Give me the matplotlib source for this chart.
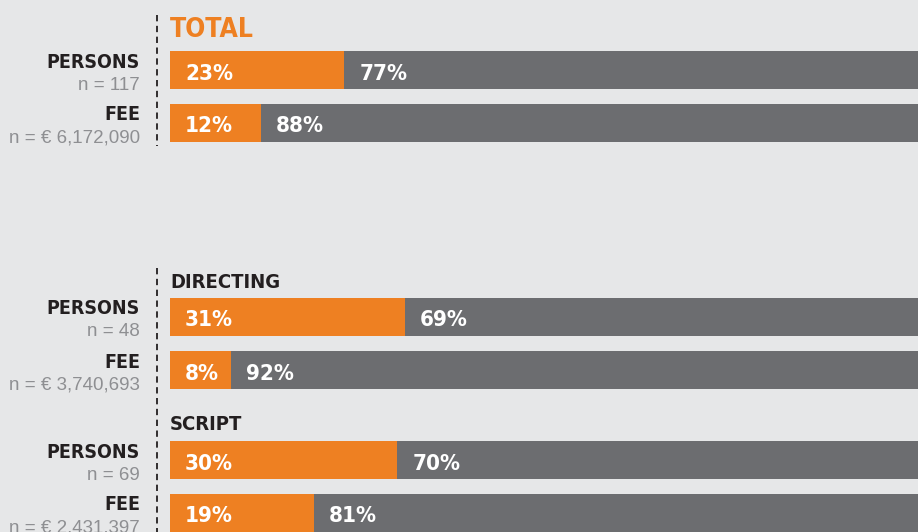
import matplotlib
matplotlib.use("Agg")
import matplotlib.pyplot as plt
from matplotlib import font_manager as fm
from matplotlib.transforms import Affine2D

# ---- data ----
groups = ["TOTAL", "DIRECTING", "SCRIPT"]
row_labels = ["PERSONS", "FEE"]
persons_pct = [23, 31, 30]
fee_pct = [12, 8, 19]
persons_n = ["n = 117", "n = 48", "n = 69"]
fee_n = ["n = € 6,172,090", "n = € 3,740,693", "n = € 2,431,397"]

# ---- style ----
BG = "#e6e7e8"
ORANGE = "#ee8022"
GREY = "#6c6d70"
DARK = "#231f20"
LIGHT = "#8e8f92"

def find_font(cands):
    for c in cands:
        for f in fm.fontManager.ttflist:
            if c.lower() in f.fname.lower().replace(" ", ""):
                return f.fname
    return None

bold_file = find_font(["LiberationSansNarrow-Bold.ttf", "DejaVuSansCondensed-Bold.ttf"])
def fp_bold(size):
    if bold_file:
        return fm.FontProperties(fname=bold_file, size=size)
    return fm.FontProperties(family="DejaVu Sans", weight="bold", size=size)
def fp_reg(size):
    return fm.FontProperties(family="Liberation Sans", size=size)

W, H = 918, 532
fig = plt.figure(figsize=(W / 100, H / 100), dpi=100, facecolor=BG)
px = Affine2D().scale(1 / W, -1 / H).translate(0, 1) + fig.transFigure

bar_x0, bar_w = 170, 758
ax = fig.add_axes([bar_x0 / W, 0, bar_w / W, 1])
ax.set_xlim(0, 100)
ax.set_ylim(H, 0)
ax.axis("off")
ax.patch.set_alpha(0)

group_tops = [51, 298, 441]
row_step, bar_h = 53, 38

for gi, g in enumerate(groups):
    top = group_tops[gi]
    title_off = 14 if gi == 0 else 10.5
    fig.text(bar_x0, top - title_off, g, transform=px, ha="left", va="baseline",
             color=ORANGE if gi == 0 else DARK,
             fontproperties=fp_bold(19 if gi == 0 else 14.5))
    vals = [persons_pct[gi], fee_pct[gi]]
    ns = [persons_n[gi], fee_n[gi]]
    for ri, v in enumerate(vals):
        y0 = top + ri * row_step
        yc = y0 + bar_h / 2
        ax.barh(yc, v, height=bar_h, left=0, color=ORANGE, linewidth=0)
        ax.barh(yc, 100 - v, height=bar_h, left=v, color=GREY, linewidth=0)
        xs = bar_x0 + bar_w * v / 100
        fig.text(bar_x0 + 15, y0 + 28.5, f"{v}%", transform=px, ha="left", va="baseline",
                 color="white", fontproperties=fp_bold(16))
        fig.text(xs + 15, y0 + 28.5, f"{100 - v}%", transform=px, ha="left", va="baseline",
                 color="white", fontproperties=fp_bold(16))
        fig.text(140, y0 + 16.5, row_labels[ri], transform=px, ha="right", va="baseline",
                 color=DARK, fontproperties=fp_bold(14))
        fig.text(140, y0 + 38.5, ns[ri], transform=px, ha="right", va="baseline",
                 color=LIGHT, fontproperties=fp_reg(13.5))

# dashed separators
for (ya, yb) in [(15, 146), (268, 532)]:
    fig.add_artist(plt.Line2D([157, 157], [ya, yb], transform=px, color=DARK,
                              linewidth=1.3, linestyle=(0, (3.5, 2.5))))

fig.savefig("out.png", dpi=100, facecolor=BG)
